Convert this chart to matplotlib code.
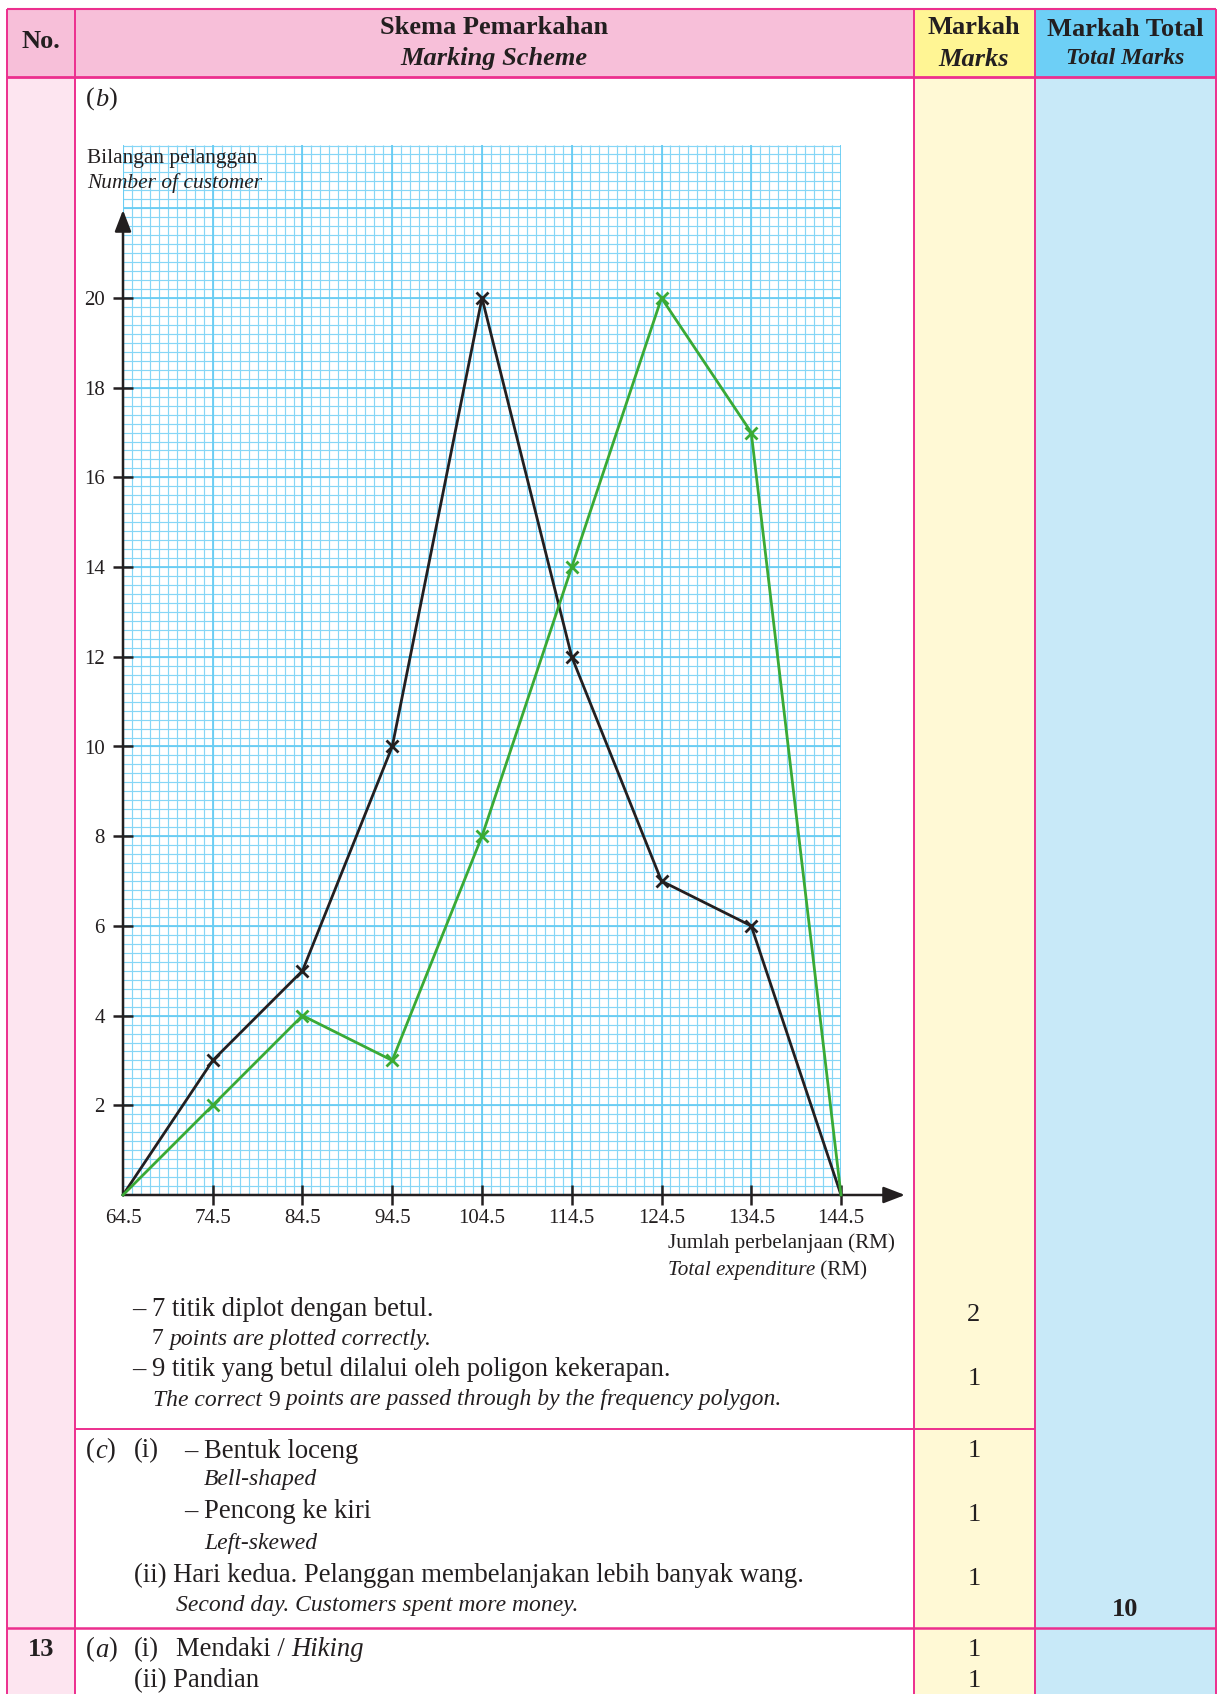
import numpy as np
import matplotlib.pyplot as plt
from matplotlib.patches import Rectangle

# frequency polygon data
expenditure = [64.5, 74.5, 84.5, 94.5, 104.5, 114.5, 124.5, 134.5, 144.5]
day1 = [0, 3, 5, 10, 20, 12, 7, 6, 0]
day2 = [0, 2, 4, 3, 8, 14, 20, 17, 0]
y_ticks = [2, 4, 6, 8, 10, 12, 14, 16, 18, 20]

W, H = 1221, 1694
plt.rcParams['font.family'] = ['Liberation Serif', 'DejaVu Serif']

PINK_LINE = '#EC2F8E'
INK = '#231F20'
GREEN = '#3AAA35'

fig = plt.figure(figsize=(W / 100, H / 100), dpi=100)
bg = fig.add_axes([0, 0, 1, 1])
bg.set_xlim(0, W)
bg.set_ylim(H, 0)
bg.axis('off')

# column edges
xL, xNo, xM, xT, xR = 7, 74.5, 913.5, 1035, 1216
yTop, yHead, ySep, yEnd = 8.6, 77.5, 1628, H

def rect(x0, y0, x1, y1, c):
    bg.add_patch(Rectangle((x0, y0), x1 - x0, y1 - y0, facecolor=c, edgecolor='none', zorder=0))

rect(xL, yTop, xM, yHead, '#F7BFD9')
rect(xM, yTop, xT, yHead, '#FFF594')
rect(xT, yTop, xR, yHead, '#6DCFF6')
rect(xL, yHead, xNo, yEnd, '#FDE5F0')
rect(xM, yHead, xT, yEnd, '#FFF9D5')
rect(xT, yHead, xR, yEnd, '#C8E9F8')

for yy, lw in [(yTop, 1.5), (yHead, 2.0), (ySep, 1.8)]:
    bg.plot([xL, xR], [yy, yy], color=PINK_LINE, lw=lw, zorder=1, solid_capstyle='butt')
bg.plot([xNo, xT], [1429, 1429], color=PINK_LINE, lw=1.4, zorder=1, solid_capstyle='butt')
for xx in [xL, xNo, xM, xT, xR]:
    bg.plot([xx, xx], [yTop, yEnd], color=PINK_LINE, lw=1.4, zorder=1, solid_capstyle='butt')

def chain(x, y, parts, size=16, ha='left', where=None):
    # parts: list of (text, style, weight)
    where = where or bg
    t = None
    for s, st, wt in parts:
        if t is None:
            t = where.text(x, y, s, fontsize=size, style=st, weight=wt, va='center',
                           ha=ha, color=INK, transform=bg.transData, clip_on=False)
        else:
            t = where.annotate(s, xy=(1, 0), xycoords=t, fontsize=size, style=st,
                               weight=wt, va='bottom', ha='left', color=INK)
    return t

def txt(x, y, s, size=16, st='normal', wt='normal', ha='left', where=None):
    where = where or bg
    where.text(x, y, s, fontsize=size, style=st, weight=wt, va='center', ha=ha,
               color=INK, transform=bg.transData, clip_on=False, zorder=10)

# header
txt(41, 42, 'No.', 19, wt='bold', ha='center')
txt(494, 27, 'Skema Pemarkahan', 19, wt='bold', ha='center')
txt(494, 59, 'Marking Scheme', 19, st='italic', wt='bold', ha='center')
txt(974, 28, 'Markah', 19, wt='bold', ha='center')
txt(974, 59, 'Marks', 19, st='italic', wt='bold', ha='center')
txt(1125, 29, 'Markah Total', 19, wt='bold', ha='center')
txt(1125, 59, 'Total Marks', 17, st='italic', wt='bold', ha='center')

# (b)
chain(86, 99, [('(', 'normal', 'normal'), ('b', 'italic', 'normal'), (')', 'normal', 'normal')], 19)
txt(668, 1243, 'Jumlah perbelanjaan (RM)', 15.2)
chain(668, 1271, [('Total expenditure', 'italic', 'normal'), (' (RM)', 'normal', 'normal')], 15.2)

# marking notes
txt(132, 1310, '– 7 titik diplot dengan betul.', 19.2)
chain(152, 1339, [('7 ', 'normal', 'normal'), ('points are plotted correctly.', 'italic', 'normal')], 17)
txt(132, 1370, '– 9 titik yang betul dilalui oleh poligon kekerapan.', 19.2)
chain(153, 1400, [('The correct ', 'italic', 'normal'), ('9', 'normal', 'normal'),
                  (' points are passed through by the frequency polygon.', 'italic', 'normal')], 17)
txt(974, 1315, '2', 19, ha='center')
txt(974, 1379, '1', 19, ha='center')

chain(86, 1451, [('(', 'normal', 'normal'), ('c', 'italic', 'normal'), (')', 'normal', 'normal')], 19.2)
txt(134, 1451, '(i)', 19.2)
txt(184, 1451, '– Bentuk loceng', 19.2)
txt(204, 1480, 'Bell-shaped', 17, st='italic')
txt(184, 1511, '– Pencong ke kiri', 19.2)
txt(204, 1543, 'Left-skewed', 17, st='italic')
txt(134, 1575, '(ii) Hari kedua. Pelanggan membelanjakan lebih banyak wang.', 19.2)
txt(176, 1605, 'Second day. Customers spent more money.', 17, st='italic')
for yy in [1451, 1515, 1579]:
    txt(974, yy, '1', 19, ha='center')
txt(1125, 1610, '10', 19, wt='bold', ha='center')

txt(41, 1650, '13', 19, wt='bold', ha='center')
chain(86, 1650, [('(', 'normal', 'normal'), ('a', 'italic', 'normal'), (')', 'normal', 'normal')], 19.2)
txt(134, 1650, '(i)', 19.2)
chain(176, 1650, [('Mendaki / ', 'normal', 'normal'), ('Hiking', 'italic', 'normal')], 19.2)
txt(134, 1681, '(ii) Pandian', 19.2)
txt(974, 1650, '1', 19, ha='center')
txt(974, 1681, '1', 19, ha='center')

# graph paper axes
gx0, gx1, gy0, gy1 = 123, 841, 145, 1195
ax = fig.add_axes([gx0 / W, (H - gy1) / H, (gx1 - gx0) / W, (gy1 - gy0) / H])
ax.set_facecolor('none')
ymax = (gy1 - gy0) / 44.85
ax.set_xlim(64.5, 144.5)
ax.set_ylim(0, ymax)
for s in ax.spines.values():
    s.set_visible(False)

ax.vlines(np.arange(64.5, 144.6, 1), 0, ymax, color='#86D6F6', lw=0.85, zorder=1)
ax.hlines(np.arange(0, ymax, 0.2), 64.5, 144.5, color='#86D6F6', lw=0.85, zorder=1)
ax.vlines(np.arange(64.5, 144.6, 10), 0, ymax, color='#6ACDF3', lw=1.3, zorder=1)
ax.hlines(np.arange(0, ymax, 2), 64.5, 144.5, color='#6ACDF3', lw=1.3, zorder=1)

# axis titles drawn over the grid paper
txt(87, 158, 'Bilangan pelanggan', 15.4, where=ax)
txt(87, 183, 'Number of customer', 15.4, st='italic', where=ax)

# axes with arrows
arrow = dict(arrowstyle='-|>,head_length=0.65,head_width=0.25', color=INK, lw=1.8,
             mutation_scale=20, shrinkA=0, shrinkB=0)
ax.annotate('', xy=(64.5, (gy1 - 210) / 44.85), xytext=(64.5, 0), arrowprops=arrow,
            annotation_clip=False, zorder=5)
ax.annotate('', xy=(64.5 + (905 - gx0) / 8.975, 0), xytext=(64.5, 0), arrowprops=arrow,
            annotation_clip=False, zorder=5)

ax.set_xticks(expenditure)
ax.set_xticklabels([f'{v:g}' for v in expenditure])
ax.set_yticks(y_ticks)
ax.set_yticklabels([str(v) for v in y_ticks])
ax.tick_params(axis='both', direction='inout', length=14, width=1.8, color=INK,
               labelsize=15, labelcolor=INK)
ax.tick_params(axis='x', pad=3)
ax.tick_params(axis='y', pad=6)
ax.xaxis.get_major_ticks()[0].tick1line.set_visible(False)

ax.plot(expenditure, day1, color=INK, lw=2.0, zorder=6, clip_on=False)
ax.plot(expenditure[1:-1], day1[1:-1], ls='none', marker='x', ms=8, mew=2,
        color=INK, zorder=7)
ax.plot(expenditure, day2, color=GREEN, lw=2.0, zorder=6, clip_on=False)
ax.plot(expenditure[1:-1], day2[1:-1], ls='none', marker='x', ms=8, mew=2,
        color=GREEN, zorder=7)

fig.savefig('out.png', dpi=100)
